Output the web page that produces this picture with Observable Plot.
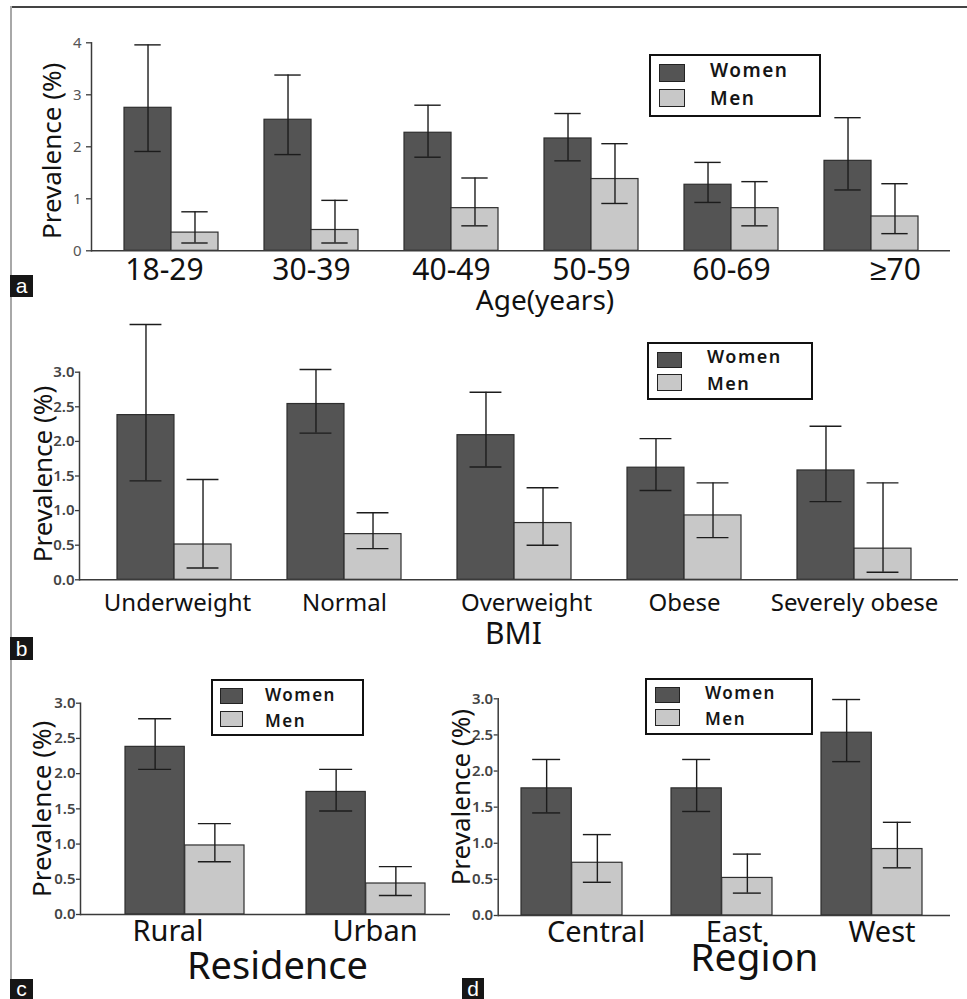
<!DOCTYPE html>
<html><head><meta charset="utf-8">
<script src="https://cdn.jsdelivr.net/npm/d3@7"></script>
<script src="https://cdn.jsdelivr.net/npm/@observablehq/plot@0.6"></script>
<style>
html,body{margin:0;padding:0;background:#fff;}
#fig{position:relative;width:967px;height:999px;overflow:hidden;font-family:"Noto Sans",sans-serif;background:#fff;}
.abs{position:absolute;}
.legend{position:absolute;border:2px solid #111;box-sizing:border-box;background:#fff;}
.sw{position:absolute;border:1.5px solid #222;box-sizing:border-box;}
.lt{position:absolute;font-weight:600;color:#151515;line-height:1;white-space:nowrap;}
.plabel{position:absolute;background:#161616;color:#fff;font-family:"Liberation Sans",Arial,sans-serif;font-size:21px;text-align:center;line-height:21px;}
</style></head><body><div id="fig"></div>
<script>
// ---------- DATA ----------
const ageCats = ["18-29", "30-39", "40-49", "50-59", "60-69", "≥70"];
const ageWomen   = [2.75, 2.52, 2.27, 2.16, 1.27, 1.73];
const ageWomenLo = [1.91, 1.85, 1.80, 1.73, 0.93, 1.17];
const ageWomenHi = [3.96, 3.38, 2.80, 2.64, 1.70, 2.56];
const ageMen     = [0.35, 0.40, 0.82, 1.38, 0.82, 0.66];
const ageMenLo   = [0.15, 0.15, 0.48, 0.91, 0.48, 0.33];
const ageMenHi   = [0.75, 0.97, 1.40, 2.06, 1.33, 1.29];

const bmiCats = ["Underweight", "Normal", "Overweight", "Obese", "Severely obese"];
const bmiWomen   = [2.38, 2.54, 2.09, 1.62, 1.58];
const bmiWomenLo = [1.43, 2.12, 1.63, 1.29, 1.13];
const bmiWomenHi = [3.69, 3.04, 2.71, 2.04, 2.22];
const bmiMen     = [0.51, 0.66, 0.82, 0.93, 0.45];
const bmiMenLo   = [0.17, 0.45, 0.50, 0.61, 0.11];
const bmiMenHi   = [1.45, 0.97, 1.33, 1.40, 1.40];

const resCats = ["Rural", "Urban"];
const resWomen   = [2.38, 1.74];
const resWomenLo = [2.06, 1.47];
const resWomenHi = [2.78, 2.06];
const resMen     = [0.98, 0.44];
const resMenLo   = [0.75, 0.27];
const resMenHi   = [1.29, 0.68];

const regCats = ["Central", "East", "West"];
const regWomen   = [1.76, 1.76, 2.53];
const regWomenLo = [1.42, 1.44, 2.13];
const regWomenHi = [2.16, 2.16, 2.99];
const regMen     = [0.73, 0.52, 0.92];
const regMenLo   = [0.46, 0.31, 0.66];
const regMenHi   = [1.12, 0.85, 1.29];

const seriesNames = ["Women", "Men"];
const ageTicks = [0, 1, 2, 3, 4];
const fracTicks = [0, 0.5, 1, 1.5, 2, 2.5, 3];
const yLabelText = "Prevalence (%)";

// ---------- STYLE ----------
const WOMEN_FILL = "#545454";
const MEN_FILL = "#c8c8c8";
const BAR_STROKE = "#2e2e2e";
const AXIS = "#3a3a3a";
const ERR = "#1c1c1c";

const fig = document.getElementById("fig");

function makeRows(cats, w, wlo, whi, m, mlo, mhi) {
  const rows = [];
  cats.forEach((c, i) => {
    rows.push({cat: c, sex: seriesNames[0], v: w[i], lo: wlo[i], hi: whi[i]});
    rows.push({cat: c, sex: seriesNames[1], v: m[i], lo: mlo[i], hi: mhi[i]});
  });
  return rows;
}

function panel(cfg) {
  const rows = makeRows(cfg.cats, ...cfg.series);
  const W = rows.filter(d => d.sex === seriesNames[0]);
  const M = rows.filter(d => d.sex === seriesNames[1]);
  const band = d3.scaleBand().domain(cfg.cats).range([cfg.ml, cfg.width - cfg.mr])
    .paddingInner(cfg.pi).paddingOuter(cfg.po).align(cfg.align);
  const bw = band.bandwidth();
  const half = bw / 2, cw = half * 0.56;
  const capW = {insetLeft: half / 2 - cw / 2, insetRight: bw - half / 2 - cw / 2};
  const capM = {insetLeft: bw - half / 2 - cw / 2, insetRight: half / 2 - cw / 2};
  const err = {stroke: ERR, strokeWidth: 1.4};
  const marks = [
    Plot.barY(W, {x: "cat", y: "v", fill: WOMEN_FILL, stroke: BAR_STROKE, strokeWidth: 1.2, insetRight: half}),
    Plot.barY(M, {x: "cat", y: "v", fill: MEN_FILL, stroke: BAR_STROKE, strokeWidth: 1.2, insetLeft: half}),
    Plot.ruleX(W, {x: "cat", y1: "lo", y2: "hi", dx: -half / 2, ...err}),
    Plot.ruleX(M, {x: "cat", y1: "lo", y2: "hi", dx: half / 2, ...err}),
    Plot.tickY(W, {x: "cat", y: "lo", ...capW, ...err}),
    Plot.tickY(W, {x: "cat", y: "hi", ...capW, ...err}),
    Plot.tickY(M, {x: "cat", y: "lo", ...capM, ...err}),
    Plot.tickY(M, {x: "cat", y: "hi", ...capM, ...err}),
    Plot.ruleY([0], {stroke: AXIS, strokeWidth: 1.5}),
    Plot.frame({anchor: "left", stroke: AXIS, strokeWidth: 1.5}),
    Plot.axisY({ticks: cfg.yTicks, tickFormat: cfg.yFmt, tickSize: cfg.tickSize, tickPadding: cfg.tickPadding,
      fontSize: cfg.yTickFont, fontWeight: cfg.yTickWeight, fill: cfg.yTickColor, stroke: AXIS, strokeWidth: 1.3, label: null}),
    ...cfg.cats.map(c => Plot.text([c], {x: d => d, text: d => d, frameAnchor: "bottom", lineAnchor: "bottom",
      textAnchor: "middle", dy: cfg.xLabelDy, dx: cfg.shift[c] || 0, fontSize: cfg.xLabelFont, fill: "#111"})),
    Plot.text([cfg.title], {frameAnchor: "bottom", lineAnchor: "bottom", textAnchor: "middle", dx: cfg.titleDx, dy: cfg.titleDy,
      fontSize: cfg.titleFont, fill: "#111"}),
    Plot.text([yLabelText], {frameAnchor: "left", textAnchor: "middle", lineAnchor: "middle", rotate: -90,
      dx: cfg.yLabDx, dy: cfg.yLabDy, fontSize: cfg.yLabFont, fill: "#111"})
  ];
  const svg = Plot.plot({
    width: cfg.width, height: cfg.height,
    marginTop: cfg.mt, marginBottom: cfg.mb, marginLeft: cfg.ml, marginRight: cfg.mr,
    style: {background: "transparent", overflow: "visible", fontFamily: "'Noto Sans', sans-serif"},
    x: {type: "band", domain: cfg.cats, paddingInner: cfg.pi, paddingOuter: cfg.po, align: cfg.align, axis: null},
    y: {domain: cfg.yDomain},
    marks
  });
  const wrap = document.createElement("div");
  wrap.className = "abs";
  wrap.style.left = cfg.left + "px";
  wrap.style.top = cfg.top + "px";
  wrap.appendChild(svg);
  fig.appendChild(wrap);
}

function legend(L) {
  const box = document.createElement("div");
  box.className = "legend";
  Object.assign(box.style, {left: L.x + "px", top: L.y + "px", width: L.w + "px", height: L.h + "px"});
  fig.appendChild(box);
  const fills = [WOMEN_FILL, MEN_FILL];
  seriesNames.forEach((name, i) => {
    const s = L.sw[i];
    const sw = document.createElement("div");
    sw.className = "sw";
    Object.assign(sw.style, {left: s[0] + "px", top: s[1] + "px", width: s[2] + "px", height: s[3] + "px", background: fills[i]});
    fig.appendChild(sw);
    const t = document.createElement("div");
    t.className = "lt";
    t.textContent = name;
    Object.assign(t.style, {left: L.tx + "px", top: (L.ty[i] - 0.531 * L.fs) + "px", fontSize: L.fs + "px", letterSpacing: L.ls + "px"});
    fig.appendChild(t);
  });
}

function rect(x, y, w, h, bg) {
  const d = document.createElement("div");
  d.className = "abs";
  Object.assign(d.style, {left: x + "px", top: y + "px", width: w + "px", height: h + "px", background: bg});
  fig.appendChild(d);
}

// frame lines
rect(11, 6, 956, 2, "#444");
rect(10, 6, 2, 993, "#a8a8a8");

panel({
  cats: ageCats, series: [ageWomen, ageWomenLo, ageWomenHi, ageMen, ageMenLo, ageMenHi],
  left: 0, top: 0, width: 967, height: 320, mt: 42.3, mb: 69.7, ml: 91, mr: 17,
  pi: 0.33, po: 0.228, align: 0.5,
  yDomain: [0, 4], yTicks: ageTicks, yFmt: d3.format("d"), tickSize: 5, tickPadding: 5,
  yTickFont: 15, yTickWeight: 400, yTickColor: "#555",
  xLabelFont: 30, xLabelDy: 29, shift: {"18-29": -7, "≥70": 24},
  title: "Age(years)", titleFont: 28, titleDx: 24, titleDy: 59,
  yLabDx: -39, yLabDy: 4, yLabFont: 26
});

panel({
  cats: bmiCats, series: [bmiWomen, bmiWomenLo, bmiWomenHi, bmiMen, bmiMenLo, bmiMenHi],
  left: 0, top: 320, width: 967, height: 330, mt: 51.7, mb: 70.7, ml: 79, mr: 9,
  pi: 0.331, po: 0.243, align: 0.45,
  yDomain: [0, 3], yTicks: fracTicks, yFmt: d3.format(".1f"), tickSize: 4, tickPadding: 1,
  yTickFont: 15, yTickWeight: 600, yTickColor: "#444",
  xLabelFont: 24, xLabelDy: 30.7, shift: {"Underweight": 3, "Overweight": 12},
  title: "BMI", titleFont: 30, titleDx: -5.5, titleDy: 64,
  yLabDx: -36, yLabDy: -2, yLabFont: 26
});

panel({
  cats: resCats, series: [resWomen, resWomenLo, resWomenHi, resMen, resMenLo, resMenHi],
  left: 0, top: 650, width: 460, height: 349, mt: 52.7, mb: 85, ml: 80, mr: 10,
  pi: 0.342, po: 0.19, align: 0.65,
  yDomain: [0, 3], yTicks: fracTicks, yFmt: d3.format(".1f"), tickSize: 4, tickPadding: 1,
  yTickFont: 15, yTickWeight: 600, yTickColor: "#444",
  xLabelFont: 29, xLabelDy: 26, shift: {"Rural": -17, "Urban": 9},
  title: "Residence", titleFont: 38, titleDx: 12, titleDy: 64,
  yLabDx: -38, yLabDy: 0, yLabFont: 26
});

panel({
  cats: regCats, series: [regWomen, regWomenLo, regWomenHi, regMen, regMenLo, regMenHi],
  left: 440, top: 650, width: 527, height: 349, mt: 48.3, mb: 84, ml: 57.7, mr: 17,
  pi: 0.326, po: 0.166, align: 0.45,
  yDomain: [0, 3], yTicks: fracTicks, yFmt: d3.format(".1f"), tickSize: 4, tickPadding: 1,
  yTickFont: 15, yTickWeight: 600, yTickColor: "#444",
  xLabelFont: 29, xLabelDy: 26, shift: {"Central": 24, "East": 12, "West": 10},
  title: "Region", titleFont: 39, titleDx: 30, titleDy: 55,
  yLabDx: -37, yLabDy: -10, yLabFont: 26
});

legend({x: 649, y: 54, w: 172, h: 63, sw: [[659, 64, 26, 18], [659, 89, 26, 18]], tx: 710, ty: [71, 99], fs: 19, ls: 1.5});
legend({x: 647, y: 342, w: 166, h: 58, sw: [[657, 352, 25, 16], [657, 374, 25, 17]], tx: 707, ty: [357, 384], fs: 18, ls: 1.5});
legend({x: 211, y: 679, w: 153, h: 57, sw: [[220, 688, 23, 16], [220, 711, 23, 16]], tx: 265, ty: [695, 721], fs: 17, ls: 1.5});
legend({x: 645, y: 678, w: 168, h: 57, sw: [[655, 687, 25, 16], [655, 709, 25, 17]], tx: 705, ty: [693, 719], fs: 17, ls: 1.5});

// panel letters
[["a", 10, 275, 23, 22], ["b", 10, 637, 23, 23], ["c", 10, 979, 23, 20], ["d", 462, 978, 22, 21]].forEach(([t, x, y, w, h]) => {
  const d = document.createElement("div");
  d.className = "plabel";
  d.textContent = t;
  Object.assign(d.style, {left: x + "px", top: y + "px", width: w + "px", height: h + "px", lineHeight: h + "px"});
  fig.appendChild(d);
});
</script></body></html>
